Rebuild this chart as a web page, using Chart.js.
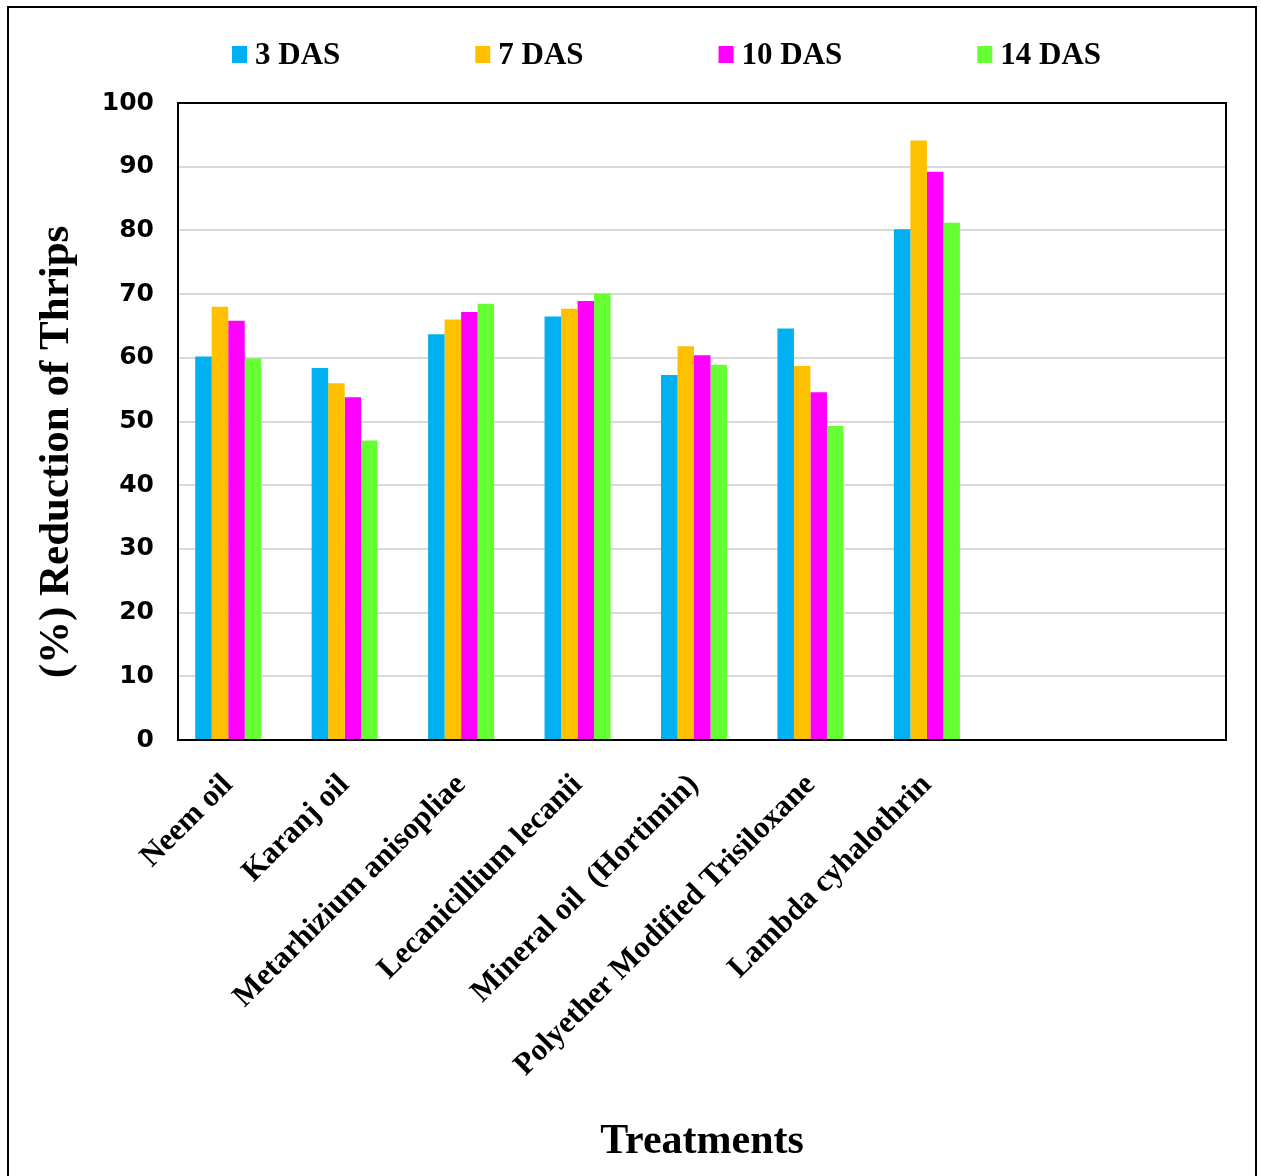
<!DOCTYPE html>
<html>
<head>
<meta charset="utf-8">
<script src="https://cdn.jsdelivr.net/npm/chart.js@4/dist/chart.umd.min.js"></script>
<style>
  html, body { margin: 0; padding: 0; background: #fff; }
</style>
</head>
<body>
<canvas id="thrips" width="1261" height="1176"></canvas>
<script>
// treatments (two empty slots on the right, as in the original sheet)
const treatments = ['Neem oil', 'Karanj oil', 'Metarhizium anisopliae', 'Lecanicillium lecanii',
  'Mineral oil  (Hortimin)', 'Polyether Modified Trisiloxane', 'Lambda cyhalothrin', '', ''];

// % reduction of thrips, days after spraying
const das3  = [60.2, 58.4, 63.7, 66.5, 57.3, 64.6, 80.2];
const das7  = [68.0, 56.0, 66.0, 67.7, 61.8, 58.7, 94.1];
const das10 = [65.8, 53.8, 67.2, 68.9, 60.4, 54.6, 89.2];
const das14 = [59.9, 47.0, 68.5, 70.1, 58.9, 49.3, 81.2];

const seriesNames = ['3 DAS', '7 DAS', '10 DAS', '14 DAS'];
const seriesColors = ['#00B0F0', '#FFC000', '#FF00FF', '#66FF33'];
const yMin = 0, yMax = 100, yStep = 10;
const yTitle = '(%) Reduction of Thrips';

const serif = '"Liberation Serif", "Times New Roman", serif';

// white page + outer frame + frame around plot area + y title
const framePlugin = {
  id: 'frame',
  beforeDraw(chart) {
    const ctx = chart.ctx;
    ctx.save();
    ctx.fillStyle = '#fff';
    ctx.fillRect(0, 0, chart.width, chart.height);
    ctx.restore();
  },
  // the excel sheet sets the category slots a little left of the plot frame
  afterLayout(chart) {
    const x = chart.scales.x;
    x._startPixel -= 8;
    x._endPixel -= 8;
  },
  afterDraw(chart) {
    const ctx = chart.ctx;
    const a = chart.chartArea;
    ctx.save();
    ctx.strokeStyle = '#000';
    ctx.lineWidth = 2;
    ctx.strokeRect(a.left, a.top, a.right - a.left, a.bottom - a.top);
    // outer frame (bottom edge runs off the page)
    ctx.beginPath();
    ctx.moveTo(8, chart.height + 5);
    ctx.lineTo(8, 7);
    ctx.lineTo(1256, 7);
    ctx.lineTo(1256, chart.height + 5);
    ctx.stroke();
    // y axis title, sits a bit below the plot middle
    ctx.translate(57, 452);
    ctx.rotate(-Math.PI / 2);
    ctx.font = 'bold 43px ' + serif;
    ctx.fillStyle = '#000';
    ctx.textAlign = 'center';
    ctx.textBaseline = 'middle';
    ctx.fillText(yTitle, 0, 0);
    ctx.restore();
  }
};

// legend across the top with wide gaps between items
const topLegend = {
  id: 'topLegend',
  afterDraw(chart) {
    const ctx = chart.ctx;
    ctx.save();
    ctx.font = 'bold 31px ' + serif;
    ctx.textBaseline = 'middle';
    let x = 232;
    const y = 55;
    chart.data.datasets.forEach(ds => {
      ctx.fillStyle = ds.backgroundColor;
      ctx.fillRect(x, y - 9, 15, 17);
      ctx.fillStyle = '#000';
      ctx.fillText(ds.label, x + 23, y + 1);
      x += 23 + ctx.measureText(ds.label).width + 135;
    });
    ctx.restore();
  }
};

const seriesData = [das3, das7, das10, das14];

new Chart(document.getElementById('thrips'), {
  type: 'bar',
  data: {
    labels: treatments,
    datasets: seriesNames.map((name, i) => ({
      label: name,
      data: seriesData[i],
      backgroundColor: seriesColors[i],
      borderWidth: 0,
      barPercentage: 1,
      categoryPercentage: 0.567
    }))
  },
  options: {
    responsive: false,
    animation: false,
    devicePixelRatio: 1,
    layout: { padding: { top: 103, left: 32, right: 35, bottom: 0 } },
    plugins: {
      legend: { display: false },
      tooltip: { enabled: false }
    },
    scales: {
      x: {
        afterFit(s) { s.height = 436; },
        grid: { display: false, drawTicks: false },
        border: { display: true, color: '#000', width: 2 },
        ticks: {
          color: '#000',
          minRotation: 45,
          maxRotation: 45,
          autoSkip: false,
          padding: 27,
          font: { family: serif, size: 31, weight: 'bold' }
        },
        title: {
          display: true,
          text: 'Treatments',
          color: '#000',
          padding: { top: 0, bottom: 9 },
          font: { family: serif, size: 42, weight: 'bold' }
        }
      },
      y: {
        min: yMin,
        max: yMax,
        afterFit(s) { s.width = 146; },
        grid: { color: '#d9d9d9', lineWidth: 2, drawTicks: false },
        border: { display: true, color: '#000', width: 2 },
        ticks: {
          stepSize: yStep,
          color: '#000',
          padding: 24,
          font: { family: '"DejaVu Sans", sans-serif', size: 25, weight: 'bold' }
        },
        title: { display: false }
      }
    }
  },
  plugins: [framePlugin, topLegend]
});
</script>
</body>
</html>
